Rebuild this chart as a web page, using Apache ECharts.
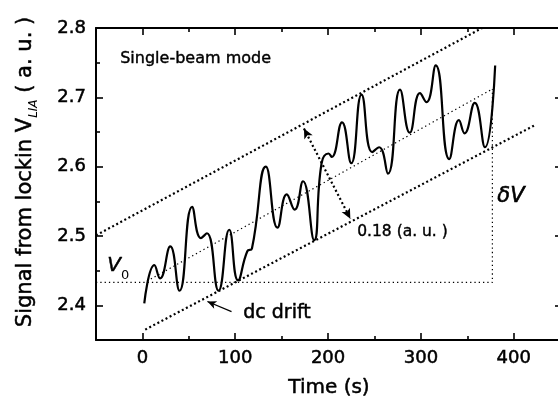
<!DOCTYPE html>
<html>
<head>
<meta charset="utf-8">
<script src="https://cdn.jsdelivr.net/npm/echarts@6/dist/echarts.min.js"></script>
<style>
html,body{margin:0;padding:0;background:#fff;}
#chart{width:558px;height:403px;}
</style>
</head>
<body>
<div id="chart"></div>
<script>
// ---- data ----
const timeS  = [2, 12.9, 19, 30, 40, 53.5, 63, 69.5, 82, 93.5, 103, 113, 118, 133, 145.5, 155.5, 164, 173, 185, 193, 200.5, 204, 215, 225, 236, 247.5, 255, 264.5, 277.5, 288, 299, 306, 316, 330.5, 341, 347, 358, 369, 380];
const signal = [2.403, 2.458, 2.439, 2.485, 2.421, 2.542, 2.497, 2.504, 2.421, 2.509, 2.436, 2.478, 2.482, 2.600, 2.512, 2.560, 2.538, 2.579, 2.494, 2.605, 2.619, 2.614, 2.664, 2.605, 2.704, 2.621, 2.628, 2.590, 2.711, 2.649, 2.706, 2.693, 2.746, 2.611, 2.667, 2.648, 2.692, 2.628, 2.746];

const xMajorTicks = [0, 100, 200, 300, 400];
const xMinorTicks = [50, 150, 250, 350];
const yMajorTicks = [2.4, 2.5, 2.6, 2.7, 2.8];
const yMinorTicks = [2.45, 2.55, 2.65, 2.75];

const upperBound = [[-50, 2.501], [366, 2.8]];
const lowerBound = [[3, 2.365], [423, 2.66]];
const trendLine  = [[5, 2.435], [377, 2.712]];
const v0Line     = [[-50, 2.433], [377, 2.433], [377, 2.712]];
const widthArrow = [[174, 2.655], [224, 2.525]];
const driftArrow = [[96, 2.391], [70, 2.4055]];

// ---- chart ----
const FONT = 'DejaVu Sans';
const HEAVY = {textBorderColor: '#000', textBorderWidth: 0.5};
const chart = echarts.init(document.getElementById('chart'), null, {renderer: 'canvas'});

function makeAxis(dim, position, ticks, len, withLine, withLabel) {
  return {
    type: 'value',
    position: position,
    min: dim === 'x' ? -50 : 2.35,
    max: dim === 'x' ? 452 : 2.8,
    scale: true,
    splitLine: {show: false},
    axisLine: {show: withLine, onZero: false, lineStyle: {color: '#000', width: 2}},
    axisTick: {show: true, inside: true, length: len, customValues: ticks,
               lineStyle: {color: '#000', width: 1.6}},
    axisLabel: Object.assign({show: withLabel, customValues: ticks, color: '#000',
                fontFamily: FONT, fontSize: 18,
                margin: dim === 'x' ? 9 : 10,
                formatter: v => (dim === 'x' ? String(Math.round(v)) : v.toFixed(1))}, HEAVY)
  };
}

const xAxes = [
  makeAxis('x', 'bottom', xMajorTicks, 7, true, true),
  makeAxis('x', 'bottom', xMinorTicks, 4, false, false),
  makeAxis('x', 'top', xMajorTicks, 7, true, false),
  makeAxis('x', 'top', xMinorTicks, 4, false, false)
];
xAxes[0].name = 'Time (s)';
xAxes[0].nameLocation = 'middle';
xAxes[0].nameGap = 38;
xAxes[0].nameTextStyle = Object.assign({fontFamily: FONT, fontSize: 20, color: '#000'}, HEAVY);

const yAxes = [
  makeAxis('y', 'left', yMajorTicks, 7, true, true),
  makeAxis('y', 'left', yMinorTicks, 4, false, false),
  makeAxis('y', 'right', yMajorTicks, 7, true, false),
  makeAxis('y', 'right', yMinorTicks, 4, false, false)
];
yAxes[0].name = '{a|Signal from lockin V}{b|LIA}{a| ( a. u. )}';
yAxes[0].nameLocation = 'middle';
yAxes[0].nameRotate = 90;
yAxes[0].nameGap = 60;
yAxes[0].nameTextStyle = {
  color: '#000',
  padding: [0, 0, 0, 24],
  rich: {
    a: Object.assign({fontFamily: FONT, fontSize: 21, color: '#000'}, HEAVY),
    b: {fontFamily: FONT, fontSize: 12, fontStyle: 'italic', color: '#000', verticalAlign: 'bottom', padding: [0, 0, -4, 0]}
  }
};

const dotThick = {color: '#000', width: 2.2, type: [2, 2.6]};
const dotThin  = {color: '#000', width: 1.2, type: [1.3, 3]};

const option = {
  animation: false,
  backgroundColor: '#fff',
  grid: {left: 96, top: 28, right: -4, bottom: 63, containLabel: false, outerBoundsMode: 'none'},
  xAxis: xAxes,
  yAxis: yAxes,
  series: [
    {type: 'line', name: 'signal', data: timeS.map((t, i) => [t, signal[i]]),
     smooth: 0.5, symbol: 'none', clip: true,
     lineStyle: {color: '#000', width: 2.2}, silent: true},
    {type: 'line', data: upperBound, symbol: 'none', clip: true, lineStyle: dotThick, silent: true},
    {type: 'line', data: lowerBound, symbol: 'none', clip: true, lineStyle: dotThick, silent: true},
    {type: 'line', data: trendLine, symbol: 'none', clip: true, lineStyle: dotThin, silent: true,
     markLine: {silent: true, animation: false, symbol: ['arrow', 'arrow'], symbolSize: [7, 10],
       lineStyle: {color: '#000', width: 2.2, type: [2, 2.6]}, label: {show: false},
       emphasis: {disabled: true},
       data: [[{coord: widthArrow[0]}, {coord: widthArrow[1]}]]}},
    {type: 'line', data: v0Line, symbol: 'none', clip: true, lineStyle: dotThin, silent: true,
     markLine: {silent: true, animation: false, symbol: ['none', 'arrow'], symbolSize: [6, 9],
       lineStyle: {color: '#000', width: 1.2, type: 'solid'}, label: {show: false},
       emphasis: {disabled: true},
       data: [[{coord: driftArrow[0]}, {coord: driftArrow[1]}]]}}
  ],
  graphic: [
    {type: 'text', left: 120, top: 51, style: Object.assign({text: 'Single-beam mode', fontFamily: FONT, fontSize: 16, fill: '#000'}, {stroke: '#000', lineWidth: 0.4})},
    {type: 'text', left: 357, top: 224, style: {text: '0.18 (a. u. )', fontFamily: FONT, fontSize: 15.5, fill: '#000', stroke: '#000', lineWidth: 0.4}},
    {type: 'text', left: 243, top: 303, style: {text: 'dc drift', fontFamily: FONT, fontSize: 19, fill: '#000', stroke: '#000', lineWidth: 0.5}},
    {type: 'text', left: 497, top: 186, style: {text: 'δV', fontFamily: FONT, fontSize: 21, fontStyle: 'italic', fill: '#000', stroke: '#000', lineWidth: 0.6}},
    {type: 'text', left: 107, top: 256, style: {
      text: '{v|V}{s|0}', fill: '#000',
      rich: {v: {fontFamily: FONT, fontSize: 20, fontStyle: 'italic', fill: '#000', stroke: '#000', lineWidth: 0.5},
             s: {fontFamily: FONT, fontSize: 13, fill: '#000', verticalAlign: 'bottom', padding: [0, 0, -6, 0]}}}}
  ]
};
chart.setOption(option);
</script>
</body>
</html>
